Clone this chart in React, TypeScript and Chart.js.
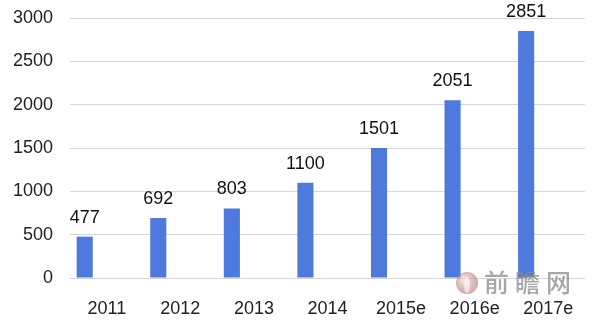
import React, { useEffect, useRef } from "react";
import { Chart, registerables } from "chart.js";

Chart.register(...registerables);

const categories = ["2011", "2012", "2013", "2014", "2015e", "2016e", "2017e"];
const values = [477, 692, 803, 1100, 1501, 2051, 2851];
const yTicks = [0, 500, 1000, 1500, 2000, 2500, 3000];

const barColor = "#4E79DD";

const labelPlugin = {
  id: "barLabels",
  afterDatasetsDraw(chart: any) {
    const ctx = chart.ctx;
    const meta = chart.getDatasetMeta(0);
    ctx.save();
    ctx.font = "18px 'Liberation Sans', Arial, sans-serif";
    ctx.fillStyle = "#111";
    ctx.textAlign = "center";
    ctx.textBaseline = "bottom";
    meta.data.forEach((bar: any, i: number) => {
      ctx.fillText(String(values[i]), bar.x, bar.y - 10);
    });
    ctx.restore();
  },
};

const watermarkPlugin = {
  id: "watermark",
  afterDraw(chart: any) {
    const ctx = chart.ctx;
    ctx.save();
    ctx.globalAlpha = 0.6;
    const cx = 467, cy = 283;
    const g = ctx.createRadialGradient(cx - 3, cy - 4, 2, cx, cy, 12);
    g.addColorStop(0, "#f0c4c4");
    g.addColorStop(1, "#a86a6a");
    ctx.fillStyle = g;
    ctx.beginPath();
    ctx.arc(cx, cy, 11, 0, Math.PI * 2);
    ctx.fill();
    ctx.fillStyle = "#fff";
    ctx.beginPath();
    ctx.ellipse(cx, cy + 2, 3, 8, 0, 0, Math.PI * 2);
    ctx.fill();
    ctx.globalAlpha = 0.75;
    ctx.fillStyle = "#8a8a8a";
    ctx.font = "500 25px 'Noto Sans CJK SC', sans-serif";
    ctx.textAlign = "left";
    ctx.textBaseline = "middle";
    const chars = ["前", "瞻", "网"];
    chars.forEach((c, i) => ctx.fillText(c, 484 + i * 31, 282));
    ctx.restore();
  },
};

export default function App() {
  const ref = useRef<HTMLCanvasElement | null>(null);
  useEffect(() => {
    document.body.style.margin = "0";
    const canvas = ref.current!;
    const chart = new Chart(canvas, {
      type: "bar",
      data: {
        labels: categories,
        datasets: [
          { data: values, backgroundColor: barColor, categoryPercentage: 0.9, barPercentage: 0.73 } as any,
          { data: values.map(() => null), backgroundColor: "transparent", categoryPercentage: 0.9, barPercentage: 0.73 } as any,
          { data: values.map(() => null), backgroundColor: "transparent", categoryPercentage: 0.9, barPercentage: 0.73 } as any,
        ],
      },
      options: {
        responsive: false,
        animation: false,
        layout: { padding: { top: 18, right: 15, bottom: 0, left: 0 } },
        plugins: { legend: { display: false }, tooltip: { enabled: false } },
        scales: {
          x: {
            grid: { display: false, drawTicks: false },
            border: { display: false },
            afterFit(scale: any) {
              scale.height = 43;
              scale.paddingLeft = 0;
              scale.paddingRight = 0;
            },
            ticks: {
              padding: 20,
              color: "#222",
              font: { family: "'Liberation Sans', Arial, sans-serif", size: 18 },
              maxRotation: 0,
              autoSkip: false,
            },
          },
          y: {
            min: 0,
            max: 3000,
            afterBuildTicks(scale: any) {
              scale.ticks = yTicks.map((v) => ({ value: v }));
            },
            afterFit(scale: any) {
              scale.width = 70;
              scale.paddingTop = 0;
              scale.paddingBottom = 0;
            },
            grid: { color: "#d6d6d6", drawTicks: false, lineWidth: 1 },
            border: { display: false },
            ticks: {
              padding: 17,
              color: "#222",
              font: { family: "'Liberation Sans', Arial, sans-serif", size: 18 },
              callback: (v: any) => String(v),
            },
          },
        },
      },
      plugins: [labelPlugin, watermarkPlugin],
    });
    return () => chart.destroy();
  }, []);
  return (
    <div style={{ width: 600, height: 321, background: "#fff" }}>
      <canvas ref={ref} width={600} height={321} style={{ display: "block" }} />
    </div>
  );
}
